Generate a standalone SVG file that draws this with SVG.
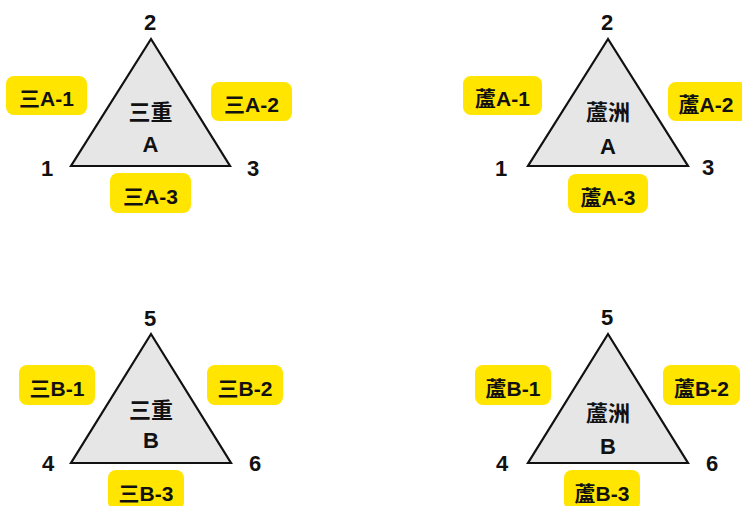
<svg xmlns="http://www.w3.org/2000/svg" width="742" height="506" viewBox="0 0 742 506">
<style>
text{font-family:"Liberation Sans","Noto Sans CJK TC",sans-serif;font-weight:bold;fill:#111;text-anchor:middle}
.tri{fill:#e6e6e6;stroke:#111;stroke-width:2.2;stroke-linejoin:miter}
.box{fill:#ffe500}
.lbl{font-size:21px}
.num{font-size:22px}
.ctr{font-size:22px}
</style>
<rect width="742" height="506" fill="#fff"/>
<g id="tri-sanchong-a">
<polygon class="tri" points="151,39 71,166 230,166"/>
<text class="ctr" x="150.5" y="120">三重</text>
<text class="ctr" x="150.5" y="152">A</text>
<text class="num" x="47" y="176">1</text>
<text class="num" x="150" y="30">2</text>
<text class="num" x="253" y="176">3</text>
</g>
<g id="lbl-sA1"><rect class="box" x="6" y="76" width="81" height="39" rx="8"/><text class="lbl" x="46.5" y="106">三A-1</text></g>
<g id="lbl-sA2"><rect class="box" x="211" y="82" width="81" height="39" rx="8"/><text class="lbl" x="251.5" y="112">三A-2</text></g>
<g id="lbl-sA3"><rect class="box" x="110" y="173" width="81" height="40" rx="8"/><text class="lbl" x="150.5" y="204">三A-3</text></g>

<g id="tri-luzhou-a">
<polygon class="tri" points="608,39 528,166 688,166"/>
<text class="ctr" x="608" y="120">蘆洲</text>
<text class="ctr" x="608" y="154">A</text>
<text class="num" x="501" y="176">1</text>
<text class="num" x="607" y="30">2</text>
<text class="num" x="708" y="175">3</text>
</g>
<g id="lbl-lA1"><rect class="box" x="463" y="76" width="79" height="39" rx="8"/><text class="lbl" x="502.5" y="106">蘆A-1</text></g>
<g id="lbl-lA2"><rect class="box" x="668" y="82" width="80" height="39" rx="8"/><text class="lbl" x="706" y="112">蘆A-2</text></g>
<g id="lbl-lA3"><rect class="box" x="568" y="174" width="80" height="39" rx="8"/><text class="lbl" x="608" y="205">蘆A-3</text></g>

<g id="tri-sanchong-b">
<polygon class="tri" points="151,334 71,463 231,463"/>
<text class="ctr" x="151" y="418">三重</text>
<text class="ctr" x="151" y="448">B</text>
<text class="num" x="48" y="471">4</text>
<text class="num" x="150" y="326">5</text>
<text class="num" x="255" y="471">6</text>
</g>
<g id="lbl-sB1"><rect class="box" x="19" y="365" width="76" height="40" rx="8"/><text class="lbl" x="57" y="396">三B-1</text></g>
<g id="lbl-sB2"><rect class="box" x="207" y="365" width="76" height="40" rx="8"/><text class="lbl" x="245" y="396">三B-2</text></g>
<g id="lbl-sB3"><rect class="box" x="108" y="470" width="76" height="40" rx="8"/><text class="lbl" x="146" y="501">三B-3</text></g>

<g id="tri-luzhou-b">
<polygon class="tri" points="608,334 528,463 688,463"/>
<text class="ctr" x="608" y="421">蘆洲</text>
<text class="ctr" x="608" y="454">B</text>
<text class="num" x="502" y="471">4</text>
<text class="num" x="607" y="325">5</text>
<text class="num" x="712" y="471">6</text>
</g>
<g id="lbl-lB1"><rect class="box" x="475" y="365" width="76" height="40" rx="8"/><text class="lbl" x="513" y="396">蘆B-1</text></g>
<g id="lbl-lB2"><rect class="box" x="663" y="365" width="77" height="40" rx="8"/><text class="lbl" x="701.5" y="396">蘆B-2</text></g>
<g id="lbl-lB3"><rect class="box" x="564" y="470" width="76" height="40" rx="8"/><text class="lbl" x="602" y="501">蘆B-3</text></g>
<g id="connectors"/>
</svg>
